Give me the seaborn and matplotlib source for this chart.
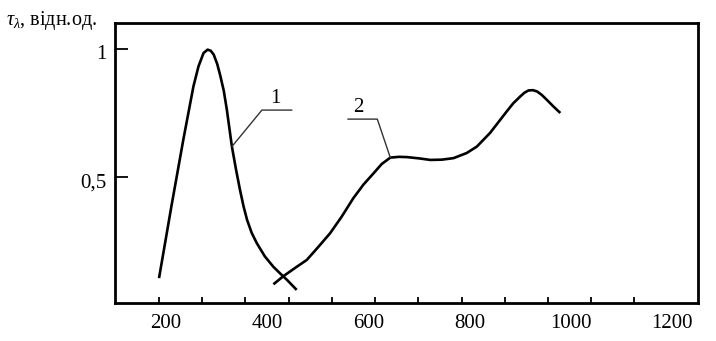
import numpy as np
import pandas as pd
import matplotlib
matplotlib.use("Agg")
import matplotlib.pyplot as plt
import matplotlib.transforms as mtransforms
import seaborn as sns

# ---- data ----
x_curve1 = [186, 210, 234, 254, 264, 274, 282, 288, 294, 301, 307, 314, 320, 330, 338, 346, 353, 360, 369, 379, 395, 412, 426, 439, 458]
y_curve1 = [0.105, 0.380, 0.645, 0.853, 0.931, 0.983, 0.996, 0.992, 0.977, 0.940, 0.895, 0.835, 0.762, 0.618, 0.530, 0.449, 0.385, 0.332, 0.282, 0.242, 0.190, 0.149, 0.122, 0.098, 0.059]

x_curve2 = [412, 432, 455, 478, 500, 524, 547, 570, 590, 610, 626, 643, 660, 676, 700, 722, 745, 768, 794, 814, 840, 873, 886, 900, 908, 916, 925, 933, 942, 952, 965, 979]
y_curve2 = [0.081, 0.113, 0.145, 0.176, 0.225, 0.280, 0.345, 0.417, 0.470, 0.514, 0.550, 0.575, 0.578, 0.577, 0.572, 0.566, 0.567, 0.573, 0.593, 0.618, 0.671, 0.755, 0.787, 0.814, 0.828, 0.837, 0.838, 0.833, 0.820, 0.801, 0.775, 0.749]

x_tick_labels = [200, 400, 600, 800, 1000, 1200]
y_tick_values = [0.5, 1.0]
y_tick_labels = ["0,5", "1"]
curve_names = ["1", "2"]

df = pd.concat([
    pd.DataFrame({"x": x_curve1, "y": y_curve1, "curve": "1"}),
    pd.DataFrame({"x": x_curve2, "y": y_curve2, "curve": "2"}),
])

sns.set_theme(style="white")
plt.rcParams["font.family"] = ["Liberation Serif", "DejaVu Serif"]
plt.rcParams["mathtext.fontset"] = "custom"
plt.rcParams["mathtext.it"] = "Liberation Serif:italic"
plt.rcParams["mathtext.rm"] = "Liberation Serif"

fig = plt.figure(figsize=(7.16, 3.41), dpi=100)
ax = fig.add_axes([115 / 716, 38 / 341, 583 / 716, 280 / 341])

sns.lineplot(data=df, x="x", y="y", units="curve", estimator=None, sort=False,
             color="black", linewidth=1.9, ax=ax)
for ln in ax.get_lines():
    ln.set_solid_joinstyle("round")
    ln.set_solid_capstyle("butt")

ax.set_xlim(99, 1251)
ax.set_ylim(0.008, 1.10)

# x labels (no visible tick mark) and small inward ticks at regular spacing
ax.set_xticks(x_tick_labels)
ax.set_xticklabels([str(v) for v in x_tick_labels])
ax.set_xticks(np.arange(186, 1130, 85.4), minor=True)
ax.tick_params(axis="x", which="major", length=0, pad=8, labelsize=15, colors="black")
ax.tick_params(axis="x", which="minor", direction="in", length=4.5, width=1.3,
               color="black", bottom=True)

ax.set_yticks(y_tick_values)
ax.set_yticklabels(y_tick_labels)
ax.tick_params(axis="y", which="major", direction="in", length=9.5, width=1.3,
               pad=6, labelsize=15, colors="black", left=True)
for lab in ax.get_yticklabels():
    lab.set_transform(lab.get_transform() + mtransforms.ScaledTranslation(0, -0.035, fig.dpi_scale_trans))

ax.set_xlabel("")
ax.set_ylabel("")
for s in ax.spines.values():
    s.set_color("black")
    s.set_linewidth(2.0)
    s.set_visible(True)
if ax.get_legend():
    ax.get_legend().remove()

# callouts (offsets in inches from a point of each curve)
callouts = [
    # (curve x, curve y, corner dx, corner dy, horizontal length, text dx)
    (x_curve1[13], y_curve1[13], 0.30, 0.365, 0.30, 0.13, curve_names[0]),
    (x_curve2[11], y_curve2[11], -0.13, 0.385, -0.295, -0.185, curve_names[1]),
]
for cx, cy, dx, dy, hl, tx, name in callouts:
    tr = fig.dpi_scale_trans + mtransforms.ScaledTranslation(cx, cy, ax.transData)
    ax.plot([0, dx, dx + hl], [0, dy, dy], transform=tr, color="#333333",
            linewidth=1.0, clip_on=False)
    ax.text(dx + tx, dy + 0.02, name, transform=tr, ha="center", va="bottom",
            fontsize=15, color="black")

fig.text(6 / 716, 1 - 21 / 341, r"$\tau_\lambda$, відн.од.", ha="left", va="center",
         fontsize=14.5, color="black")

fig.savefig("out.png", dpi=100, facecolor="white")
